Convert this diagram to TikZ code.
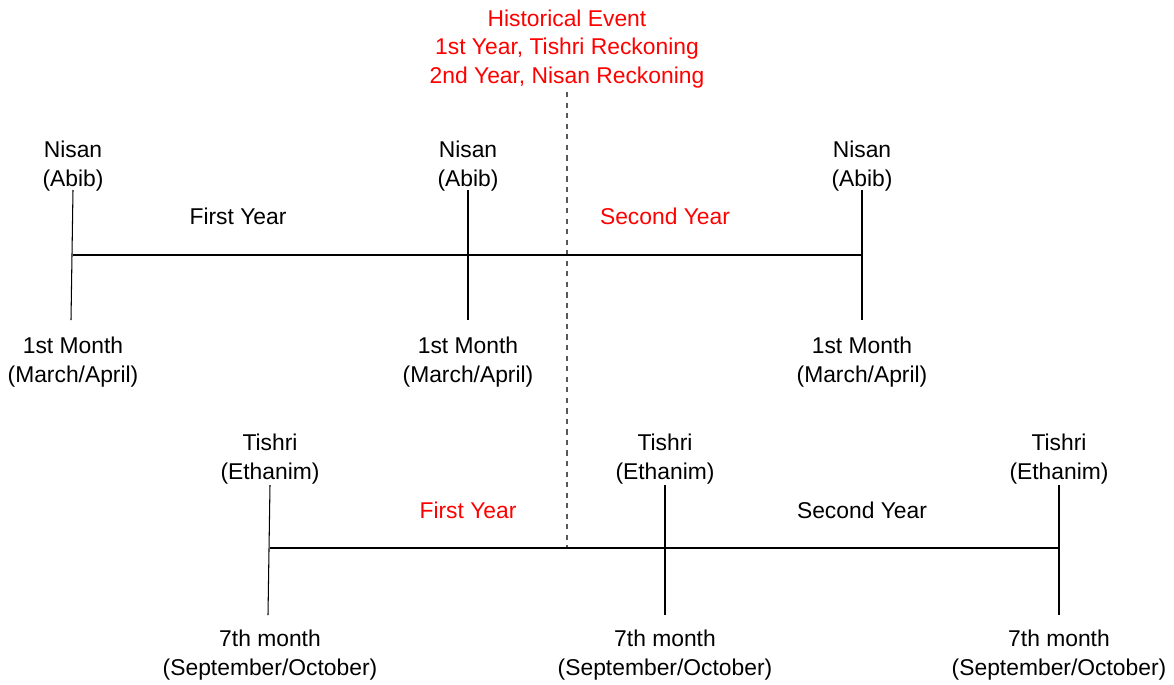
\documentclass[tikz,border=0pt]{standalone}
\usepackage{fontspec}
\setmainfont{Liberation Sans}
\usetikzlibrary{positioning}

\begin{document}
\begin{tikzpicture}[x=0.02cm, y=-0.02cm,
  lbl/.style={align=center, inner sep=0pt, font=\fontsize{13}{16.4}\selectfont},
  redlbl/.style={lbl, text=red},
  tick/.style={line width=0.6pt},
  yearline/.style={line width=0.6pt}]
\useasboundingbox (0,0) rectangle (1174,684);

% Evento histórico
\node[redlbl] (event) at (567,49) {Historical Event\\1st Year, Tishri Reckoning\\2nd Year, Nisan Reckoning};
\coordinate (evtop) at (567,92);
\coordinate (evbot) at (567,548);
\draw[dashed, line width=0.6pt, gray!70!black] (evtop) -- (evbot);

% Contagem de Nisan
\coordinate (n1t) at (73,190);  \coordinate (n1m) at (73,255);  \coordinate (n1b) at (71,320);
\coordinate (n2t) at (468,190); \coordinate (n2m) at (468,255); \coordinate (n2b) at (468,320);
\coordinate (n3t) at (862,190); \coordinate (n3m) at (862,255); \coordinate (n3b) at (862,320);
\draw[tick] (n1t) -- (n1b);
\draw[tick] (n2t) -- (n2b);
\draw[tick] (n3t) -- (n3b);
\draw[yearline] (n1m) -- (n3m);

\node[lbl] (nisan1) at (73,166)  {Nisan\\(Abib)};
\node[lbl] (nisan2) at (468,166) {Nisan\\(Abib)};
\node[lbl] (nisan3) at (862,166) {Nisan\\(Abib)};
\node[lbl] (month1a) at (73,362)  {1st Month\\(March/April)};
\node[lbl] (month1b) at (468,362) {1st Month\\(March/April)};
\node[lbl] (month1c) at (862,362) {1st Month\\(March/April)};
\node[lbl] (nfirst) at (238,216) {First Year};
\node[redlbl] (nsecond) at (665,216) {Second Year};

% Contagem de Tishri
\coordinate (t1t) at (270,485);  \coordinate (t1m) at (270,548);  \coordinate (t1b) at (268,615);
\coordinate (t2t) at (665,485);  \coordinate (t2m) at (665,548);  \coordinate (t2b) at (665,615);
\coordinate (t3t) at (1059,485); \coordinate (t3m) at (1059,548); \coordinate (t3b) at (1059,615);
\draw[tick] (t1t) -- (t1b);
\draw[tick] (t2t) -- (t2b);
\draw[tick] (t3t) -- (t3b);
\draw[yearline] (t1m) -- (t3m);

\node[lbl] (tishri1) at (270,459)  {Tishri\\(Ethanim)};
\node[lbl] (tishri2) at (665,459)  {Tishri\\(Ethanim)};
\node[lbl] (tishri3) at (1059,459) {Tishri\\(Ethanim)};
\node[lbl] (month7a) at (270,655)  {7th month\\(September/October)};
\node[lbl] (month7b) at (665,655)  {7th month\\(September/October)};
\node[lbl] (month7c) at (1059,655) {7th month\\(September/October)};
\node[redlbl] (tfirst) at (468,510) {First Year};
\node[lbl] (tsecond) at (862,510) {Second Year};
\end{tikzpicture}
\end{document}
